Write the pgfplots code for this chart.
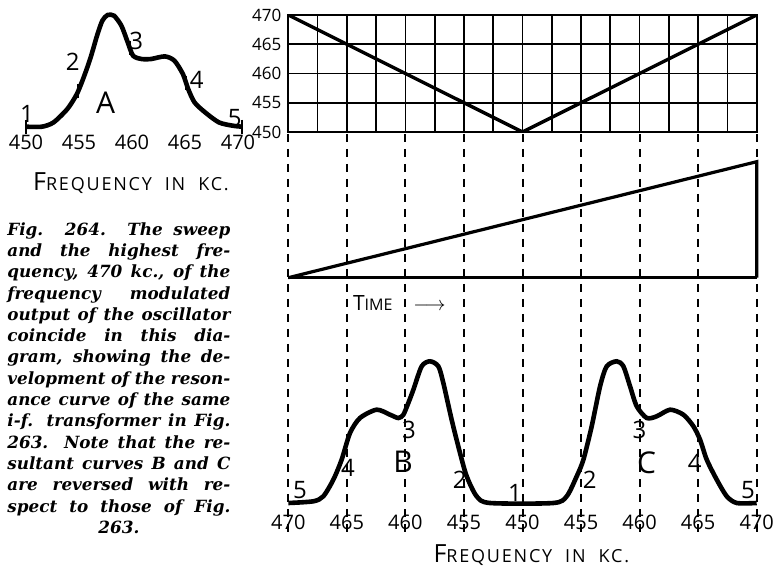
\documentclass[border=0pt]{standalone}
\usepackage{fontspec}
\setmainfont{Liberation Serif}
\setsansfont{Open Sans}
\newfontfamily\capfont{DejaVu Serif}
\usepackage{pgfplots}
\pgfplotsset{compat=1.18}
\newcommand\freqlabel{{\sffamily\addfontfeature{LetterSpace=10}{\fontsize{12.5}{12}\selectfont F}{\fontsize{9}{9}\selectfont REQUENCY\ \ IN\ \ KC.}}}
\newcommand\capline[1]{\makebox[111.5pt][s]{#1}}
\begin{document}
\begin{tikzpicture}[x=1pt,y=1pt]
\useasboundingbox (0,0) rectangle (388,284);

% ---------- curve A ----------
\begin{axis}[at={(13pt,220.65pt)}, anchor=south west, scale only axis,
  width=106pt, height=57.5pt, xmin=450, xmax=470, ymin=0, ymax=115, clip=false,
  axis line style={draw=none}, tick style={draw=none}, ytick=\empty,
  xtick={450,455,460,465,470}, xticklabels={450,455,460,465,470},
  xticklabel style={font=\sffamily\fontsize{10}{10}\selectfont, anchor=center,
    text height=7.2pt, text depth=0pt, inner sep=0pt, yshift=-7.6pt}]
\addplot[line width=2.3pt, smooth, tension=0.45] coordinates {
 (450,0)(451.5,0)(452.6,4.3)(453.9,17.7)(454.8,32.7)(455.5,51)(456.1,69.3)(456.7,91)
 (457.2,106)(457.7,111.7)(458.3,111)(459.0,101)(459.6,84.3)(460.1,71)(460.9,67.7)
 (461.8,67.7)(463.1,70.3)(464.0,66)(464.8,52.7)(465.3,37.7)(465.9,24.3)(466.9,14.3)
 (468.2,4.3)(469.5,1)(470.4,0)};
\addplot[only marks, mark=|, mark size=3.5pt, mark options={line width=1pt}] coordinates {
 (450,0)(454.9,36)(459.8,79)(465.1,44)(470.4,0)};
\begin{scope}[font=\sffamily\fontsize{12}{12}\selectfont]
\node at (axis cs:450.1,13) {1};
\node at (axis cs:454.4,64.7) {2};
\node at (axis cs:460.4,85.7) {3};
\node at (axis cs:466.1,46.7) {4};
\node at (axis cs:469.7,8.7) {5};
\node[font=\sffamily\fontsize{15}{15}\selectfont] at (axis cs:457.5,23.7) {A};
\end{scope}
\node at (axis cs:459.9,-56.3) {\freqlabel};
\end{axis}

% ---------- caption ----------
\node[anchor=north west, inner sep=0pt, align=left,
  font=\capfont\fontsize{8.4}{10.65}\selectfont\bfseries\itshape] at (3.5,173) {%
\capline{Fig. 264. The sweep}\\
\capline{and the highest fre-}\\
\capline{quency, 470 kc., of the}\\
\capline{frequency modulated}\\
\capline{output of the oscillator}\\
\capline{coincide in this dia-}\\
\capline{gram, showing the de-}\\
\capline{velopment of the reson-}\\
\capline{ance curve of the same}\\
\capline{i-f. transformer in Fig.}\\
\capline{263. Note that the re-}\\
\capline{sultant curves B and C}\\
\capline{are reversed with re-}\\
\capline{spect to those of Fig.}\\
\makebox[111.5pt][c]{263.}};

% ---------- sweep grid ----------
\begin{axis}[at={(144.15pt,218pt)}, anchor=south west, scale only axis,
  width=234.2pt, height=58.5pt, xmin=0, xmax=8, ymin=450, ymax=470,
  xtick={0,0.5,...,8}, xticklabels={}, ytick={450,455,460,465,470},
  yticklabels={450,455,460,465,470},
  yticklabel style={font=\sffamily\fontsize{8.5}{8.5}\selectfont},
  grid=major, grid style={black, line width=0.9pt},
  axis line style={line width=1.1pt}, tick style={draw=none}]
\addplot[line width=1.7pt] coordinates {(0,470)(4,450)(8,470)};
\end{axis}

% ---------- time base and resultant curves ----------
\begin{axis}[at={(144.15pt,32.5pt)}, anchor=south west, scale only axis,
  width=234.2pt, height=184.5pt, xmin=0, xmax=8, ymin=0, ymax=369, clip=false,
  axis line style={draw=none}, tick style={draw=none}, ytick=\empty,
  xtick={0,1,2,3,4,5,6,7,8},
  xticklabels={470,465,460,455,450,455,460,465,470},
  xticklabel style={font=\sffamily\fontsize{10}{10}\selectfont, anchor=center,
    text height=7.2pt, text depth=0pt, inner sep=0pt, yshift=-9.5pt}]
\pgfplotsinvokeforeach{0,1,2,3,4,5,6,7,8}{
  \addplot[line width=1pt, dash pattern=on 4pt off 3.5pt] coordinates {(#1,369)(#1,-34)};
}
\addplot[line width=1.3pt] coordinates {(0,225.3)(8,225.3)};
\addplot[line width=1.6pt] coordinates {(0,225.3)(8,341.3)(8,225.3)};
\addplot[line width=2.3pt, smooth, tension=0.45] coordinates {
 (0,0)(0.427,1.7)(0.598,6.7)(0.769,23.3)(0.911,43.3)(1.054,70)(1.224,85)(1.509,93.3)
 (1.737,88.3)(1.879,85)(1.965,88.3)(2.050,100)(2.136,113.3)(2.278,136.7)(2.420,141.7)
 (2.563,136.7)(2.648,120)(2.790,83.3)(2.933,50)(3.047,26.7)(3.217,6.7)(3.445,0)
 (4.527,0)(4.755,6.7)(4.926,26.7)(5.040,43.3)(5.182,76.7)(5.325,116.7)(5.438,136.7)
 (5.609,141.7)(5.723,136.7)(5.837,116.7)(5.951,96.7)(6.122,85)(6.293,86.7)(6.521,93.3)
 (6.748,88.3)(6.919,76.7)(7.033,63.3)(7.147,43.3)(7.318,23.3)(7.489,6.7)(7.660,0)(8,0)};
\begin{scope}[font=\sffamily\fontsize{12}{12}\selectfont]
\node at (axis cs:0.2,13) {5};
\node at (axis cs:1.02,35) {4};
\node at (axis cs:2.06,73) {3};
\node at (axis cs:2.93,23) {2};
\node at (axis cs:3.87,10) {1};
\node at (axis cs:5.15,23) {2};
\node at (axis cs:6.0,73) {3};
\node at (axis cs:6.94,40) {4};
\node at (axis cs:7.85,13) {5};
\node[font=\sffamily\fontsize{15}{15}\selectfont] at (axis cs:1.96,41) {B};
\node[font=\sffamily\fontsize{15}{15}\selectfont] at (axis cs:6.12,40) {C};
\end{scope}
\node[anchor=west, inner sep=0pt] at (axis cs:1.1,200) {\sffamily{\fontsize{10.5}{10}\selectfont T}{\fontsize{8}{8}\selectfont IME}\ \ \ \ $\longrightarrow$};
\node at (axis cs:4.15,-52) {\freqlabel};
\end{axis}
\end{tikzpicture}
\end{document}
